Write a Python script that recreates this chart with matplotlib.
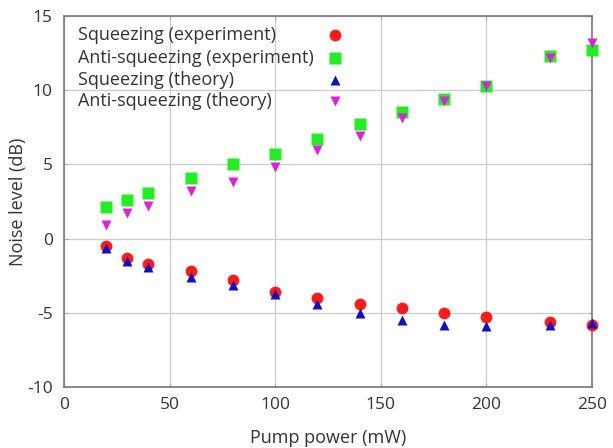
import matplotlib
matplotlib.use("Agg")
import matplotlib.pyplot as plt

power = [20, 30, 40, 60, 80, 100, 120, 140, 160, 180, 200, 230, 250]
sq_exp = [-0.5, -1.3, -1.7, -2.2, -2.8, -3.6, -4.0, -4.4, -4.7, -5.0, -5.3, -5.6, -5.8]
anti_exp = [2.1, 2.6, 3.1, 4.1, 5.0, 5.7, 6.7, 7.7, 8.5, 9.4, 10.3, 12.3, 12.7]
sq_th = [-0.6, -1.5, -1.9, -2.6, -3.1, -3.7, -4.4, -5.0, -5.5, -5.8, -5.9, -5.8, -5.7]
anti_th = [0.9, 1.7, 2.2, 3.2, 3.8, 4.8, 6.0, 6.9, 8.1, 9.3, 10.3, 12.2, 13.2]
labels = ['Squeezing (experiment)', 'Anti-squeezing (experiment)',
          'Squeezing (theory)', 'Anti-squeezing (theory)']
xticks = [0, 50, 100, 150, 200, 250]
yticks = [-10, -5, 0, 5, 10, 15]

plt.rcParams['font.family'] = ['Open Sans', 'DejaVu Sans']
plt.rcParams['axes.unicode_minus'] = False

W, H = 613, 448
fig = plt.figure(figsize=(W/100, H/100), dpi=100)
x0, x1, y0, y1 = 64, 592, 16, 387
ax = fig.add_axes([x0/W, 1-y1/H, (x1-x0)/W, (y1-y0)/H])

styles = [
    dict(marker='o', color='#ff1a1a', ms=8.5, zorder=3),
    dict(marker='s', color='#22ee22', ms=8, zorder=3),
    dict(marker='^', color='#1010c0', ms=7.5, zorder=4),
    dict(marker='v', color='#e020e0', ms=7.5, zorder=4),
]
series = [sq_exp, anti_exp, sq_th, anti_th]
for vals, st, lab in zip(series, styles, labels):
    ax.plot(power, vals, linestyle='none', mec='none', clip_on=False, label=lab, **st)

ax.set_xlim(0, 250)
ax.set_ylim(-10, 15)
ax.set_xticks(xticks)
ax.set_yticks(yticks)
ax.grid(True, color='#cccccc', lw=0.9)
ax.set_axisbelow(True)
for s in ax.spines.values():
    s.set_color('#777777')
    s.set_linewidth(1.2)
ax.tick_params(direction='in', length=3, color='#aaaaaa', labelsize=12.5, labelcolor='#333333', pad=8,
               top=True, right=True)
ax.tick_params(axis='x', pad=7)
ax.set_xlabel('Pump power (mW)', fontsize=13, color='#333333', labelpad=12)
ax.set_ylabel('Noise level (dB)', fontsize=13, color='#333333', labelpad=0)

# manual legend: left-aligned text, markers in a column to the right
row_y = [35, 58, 80, 101]
tx, mx = 78, 335
for yy, st, lab in zip(row_y, styles, labels):
    ax.text((tx - x0)/(x1 - x0), 1 - (yy - y0)/(y1 - y0), lab, transform=ax.transAxes,
            ha='left', va='center', fontsize=13, color='#333333')
    ax.plot([(mx - x0)/(x1 - x0)], [1 - (yy - y0)/(y1 - y0)], transform=ax.transAxes,
            linestyle='none', mec='none', clip_on=False, **st)

fig.savefig('out.png', dpi=100)
